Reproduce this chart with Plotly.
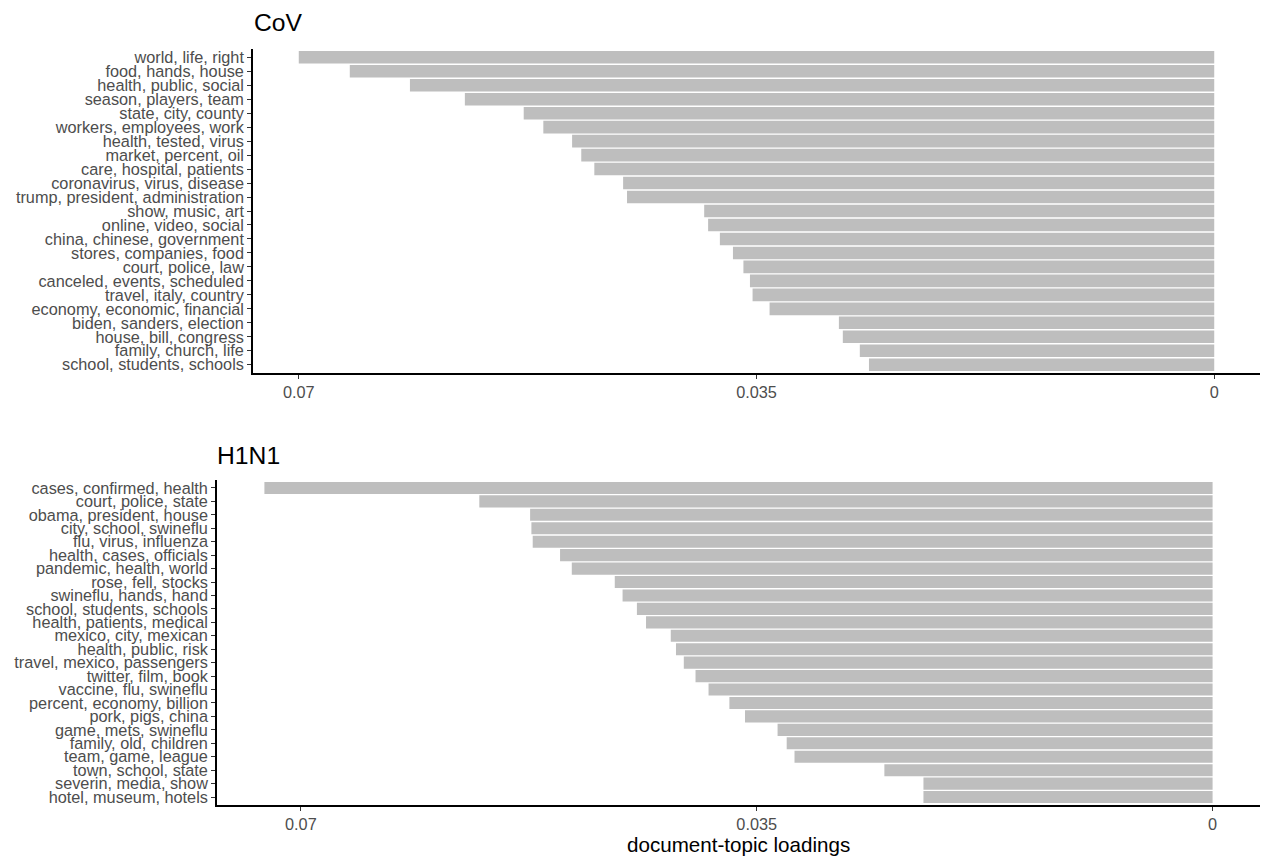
import plotly.graph_objects as go

cov_topics = [
    "world, life, right", "food, hands, house", "health, public, social",
    "season, players, team", "state, city, county", "workers, employees, work",
    "health, tested, virus", "market, percent, oil", "care, hospital, patients",
    "coronavirus, virus, disease", "trump, president, administration",
    "show, music, art", "online, video, social", "china, chinese, government",
    "stores, companies, food", "court, police, law", "canceled, events, scheduled",
    "travel, italy, country", "economy, economic, financial",
    "biden, sanders, election", "house, bill, congress", "family, church, life",
    "school, students, schools",
]
cov_values = [
    0.0700, 0.0661, 0.0615, 0.0573, 0.0528, 0.0513, 0.0491, 0.0484, 0.0474,
    0.0452, 0.0449, 0.0390, 0.0387, 0.0378, 0.0368, 0.0360, 0.0355, 0.0353,
    0.0340, 0.0287, 0.0284, 0.0271, 0.0264,
]

h1n1_topics = [
    "cases, confirmed, health", "court, police, state", "obama, president, house",
    "city, school, swineflu", "flu, virus, influenza", "health, cases, officials",
    "pandemic, health, world", "rose, fell, stocks", "swineflu, hands, hand",
    "school, students, schools", "health, patients, medical", "mexico, city, mexican",
    "health, public, risk", "travel, mexico, passengers", "twitter, film, book",
    "vaccine, flu, swineflu", "percent, economy, billion", "pork, pigs, china",
    "game, mets, swineflu", "family, old, children", "team, game, league",
    "town, school, state", "severin, media, show", "hotel, museum, hotels",
]
h1n1_values = [
    0.0728, 0.0563, 0.0524, 0.0523, 0.0522, 0.0501, 0.0492, 0.0459, 0.0453,
    0.0442, 0.0435, 0.0416, 0.0412, 0.0406, 0.0397, 0.0387, 0.0371, 0.0359,
    0.0334, 0.0327, 0.0321, 0.0252, 0.0222, 0.0222,
]

tick_vals = [0.07, 0.035, 0]
tick_text = ["0.07", "0.035", "0"]

W, H = 1262, 856
FONT = "Liberation Sans, Arial, sans-serif"
BAR = "#BEBEBE"
TXT = "#4D4D4D"

fig = go.Figure()
fig.add_trace(go.Bar(x=cov_values, y=cov_topics, orientation="h",
                     marker=dict(color=BAR, line=dict(width=0)),
                     xaxis="x", yaxis="y", showlegend=False, width=0.9))
fig.add_trace(go.Bar(x=h1n1_values, y=h1n1_topics, orientation="h",
                     marker=dict(color=BAR, line=dict(width=0)),
                     xaxis="x2", yaxis="y2", showlegend=False, width=0.9))


def px_x(p):
    return p / W


def px_y(p):
    return 1 - p / H


def rng(vals):
    m = max(vals)
    return [m * 1.05, -m * 0.05]


axis_common = dict(
    showline=True, linecolor="black", linewidth=1.6, mirror=False,
    ticks="outside", ticklen=4, tickwidth=1.4, tickcolor="#333333",
    showgrid=False, zeroline=False,
    tickfont=dict(family=FONT, size=16.3, color=TXT),
)

n1 = len(cov_topics)
n2 = len(h1n1_topics)

fig.update_layout(
    width=W, height=H,
    margin=dict(l=0, r=0, t=0, b=0),
    paper_bgcolor="white", plot_bgcolor="white",
    bargap=0.1,
    font=dict(family=FONT),
    xaxis=dict(domain=[px_x(253), px_x(1260)], anchor="y",
               range=rng(cov_values), tickvals=tick_vals, ticktext=tick_text,
               **axis_common),
    yaxis=dict(domain=[px_y(373), px_y(48)], anchor="x",
               type="category", categoryorder="array", categoryarray=cov_topics,
               tickmode="array", tickvals=cov_topics, ticktext=cov_topics,
               range=[n1 - 0.4, -0.6], **axis_common),
    xaxis2=dict(domain=[px_x(217), px_x(1260)], anchor="y2",
                range=rng(h1n1_values), tickvals=tick_vals, ticktext=tick_text,
                **axis_common),
    yaxis2=dict(domain=[px_y(806), px_y(480)], anchor="x2",
                type="category", categoryorder="array", categoryarray=h1n1_topics,
                tickmode="array", tickvals=h1n1_topics, ticktext=h1n1_topics,
                range=[n2 - 0.4, -0.6], **axis_common),
    annotations=[
        dict(text="CoV", x=px_x(252), y=px_y(22), xref="paper", yref="paper",
             xanchor="left", yanchor="middle", showarrow=False,
             font=dict(family=FONT, size=24.7, color="black")),
        dict(text="H1N1", x=px_x(215), y=px_y(456), xref="paper", yref="paper",
             xanchor="left", yanchor="middle", showarrow=False,
             font=dict(family=FONT, size=24.7, color="black")),
        dict(text="document-topic loadings", x=px_x(738), y=px_y(845),
             xref="paper", yref="paper", xanchor="center", yanchor="middle",
             showarrow=False, font=dict(family=FONT, size=20.6, color="black")),
    ],
)

fig.write_html(
    "out.html",
    config={"displayModeBar": False},
    post_script="document.body.style.margin='0';document.body.style.overflow='hidden';",
)
